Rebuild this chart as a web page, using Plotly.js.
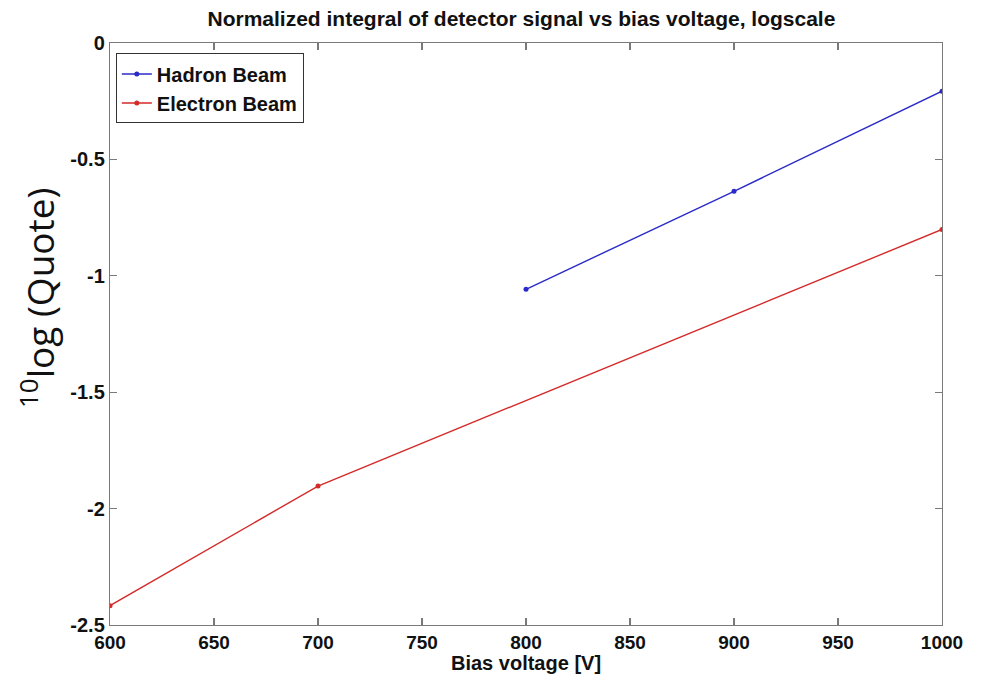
<!DOCTYPE html>
<html>
<head>
<meta charset="utf-8">
<script src="https://cdn.plot.ly/plotly-3.0.1.min.js"></script>
<style>
  html, body { margin: 0; padding: 0; background: #ffffff; }
  #chart { width: 982px; height: 674px; }
</style>
</head>
<body>
<div id="chart"></div>
<script>
// Bias voltage [V] and log10 of the normalized signal integral
const hadronVoltage = [800, 900, 1000];
const hadronLogQuote = [-1.058, -0.637, -0.207];

const electronVoltage = [600, 700, 1000];
const electronLogQuote = [-2.417, -1.903, -0.801];

const xTickValues = [600, 650, 700, 750, 800, 850, 900, 950, 1000];
const xTickLabels = ['600', '650', '700', '750', '800', '850', '900', '950', '1000'];
const yTickValues = [0, -0.5, -1, -1.5, -2, -2.5];
const yTickLabels = ['0', '-0.5', '-1', '-1.5', '-2', '-2.5'];

const boldFont = 'Liberation Sans, Arial, sans-serif';

const traces = [
  {
    x: hadronVoltage,
    y: hadronLogQuote,
    name: 'Hadron Beam',
    mode: 'lines+markers',
    line: { color: '#2a2ac8', width: 1.4 },
    marker: { color: '#2a2ac8', size: 5 }
  },
  {
    x: electronVoltage,
    y: electronLogQuote,
    name: 'Electron Beam',
    mode: 'lines+markers',
    line: { color: '#d42a2a', width: 1.4 },
    marker: { color: '#d42a2a', size: 5 }
  }
];

const axisCommon = {
  showgrid: false,
  zeroline: false,
  showline: true,
  linecolor: '#7a7a7a',
  linewidth: 1.2,
  mirror: 'ticks',
  ticks: 'inside',
  ticklen: 7,
  tickcolor: '#7a7a7a',
  tickwidth: 1.2,
  tickfont: { family: boldFont, size: 20, color: '#111111', weight: 'bold' },
  automargin: false
};

const layout = {
  width: 982,
  height: 674,
  paper_bgcolor: '#ffffff',
  plot_bgcolor: '#ffffff',
  margin: { l: 110, r: 40, t: 43, b: 49 },
  showlegend: true,
  title: {
    text: '<b>Normalized integral of detector signal vs bias voltage, logscale</b>',
    font: { family: boldFont, size: 21, color: '#111111' },
    x: 0.531, xanchor: 'center', xref: 'container',
    y: 0.972, yanchor: 'middle', yref: 'container'
  },
  xaxis: Object.assign({}, axisCommon, {
    range: [600, 1000],
    tickvals: xTickValues,
    ticktext: xTickLabels,
    tickfont: { family: boldFont, size: 19, color: '#111111', weight: 'bold' }
  }),
  yaxis: Object.assign({}, axisCommon, {
    range: [-2.5, 0],
    tickvals: yTickValues,
    ticktext: yTickLabels
  }),
  annotations: [
    {
      // x-axis title
      text: '<b>Bias voltage [V]</b>',
      xref: 'paper', yref: 'paper',
      x: 0.5, y: -0.066,
      xanchor: 'center', yanchor: 'middle',
      showarrow: false,
      font: { family: boldFont, size: 20, color: '#111111' }
    },
    {
      // y-axis title
      text: '<sup>10</sup>log (Quote)',
      textangle: -90,
      xref: 'paper', yref: 'paper',
      x: -0.0865, y: 0.562,
      xanchor: 'center', yanchor: 'middle',
      showarrow: false,
      font: { family: 'Open Sans, Noto Sans, sans-serif', size: 37, color: '#111111' }
    }
  ],
  legend: {
    x: 0.007, y: 0.982, xanchor: 'left', yanchor: 'top',
    bgcolor: '#ffffff',
    bordercolor: '#333333',
    borderwidth: 1,
    font: { family: boldFont, size: 20, color: '#111111', weight: 'bold' },
    itemwidth: 30,
    tracegroupgap: 0
  }
};

Plotly.newPlot('chart', traces, layout, { displayModeBar: false, staticPlot: true });
</script>
</body>
</html>
